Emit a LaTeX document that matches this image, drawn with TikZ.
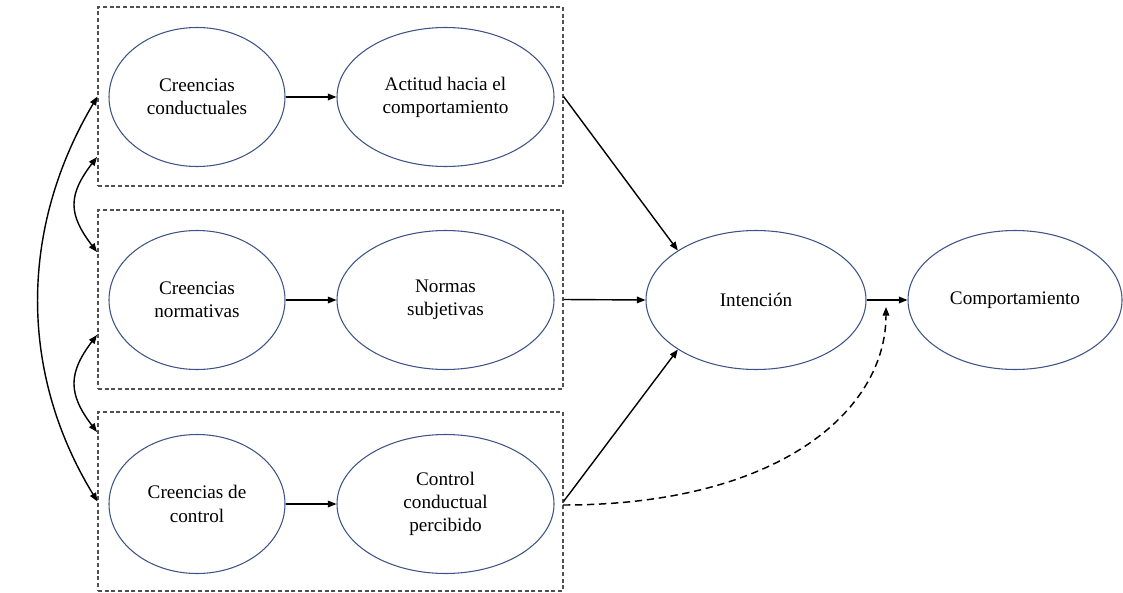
\documentclass[tikz,border=0pt]{standalone}
\usepackage{fontspec}
\setmainfont{Liberation Serif}
\usetikzlibrary{arrows.meta,shapes.geometric}
\definecolor{ellblue}{RGB}{62,84,136}
\definecolor{boxgray}{RGB}{80,80,80}
\begin{document}
\begin{tikzpicture}[x=0.75pt,y=-0.75pt,
  ell/.style={ellipse, draw=ellblue, line width=0.8pt, inner sep=0pt, minimum height=104.25pt, align=center, font=\fontsize{14.4}{17.4}\selectfont},
  dbox/.style={draw=boxgray, dash pattern=on 3pt off 2pt, line width=0.8pt, minimum width=348.75pt, minimum height=134.25pt, inner sep=0pt},
  tip/.tip={Triangle[length=6.5pt,width=5pt]},
  conn/.style={line width=1.05pt, -tip},
  biconn/.style={line width=1.05pt, tip-tip},
  dconn/.style={line width=1.1pt, dash pattern=on 5.5pt off 3.5pt, -tip},
]
\useasboundingbox (0,0) rectangle (1123,592);
% dashed groups
\node[dbox] (b1) at (330.5,96.5) {};
\node[dbox] (b2) at (330.5,299.5) {};
\node[dbox] (b3) at (330.5,501.5) {};
% ellipses
\node[ell, minimum width=132pt] (cc) at (197,97) {Creencias\\conductuales};
\node[ell, minimum width=162.75pt] (ac) at (445.5,97) {Actitud hacia el\\comportamiento};
\node[ell, minimum width=132pt] (cn) at (197,300) {Creencias\\normativas};
\node[ell, minimum width=162.75pt] (ns) at (445.5,300) {Normas\\subjetivas};
\node[ell, minimum width=132pt] (cd) at (197,504) {Creencias de\\control};
\node[ell, minimum width=162.75pt] (cp) at (445.5,504) {Control\\conductual\\percibido};
\node[ell, minimum width=165pt] (int) at (756,300) {Intención};
\node[ell, minimum width=160.5pt] (comp) at (1015,300) {Comportamiento};
% helper coordinates
\coordinate (l1a) at (97,157);
\coordinate (l1b) at (97,252);
\coordinate (l2a) at (97,335);
\coordinate (l2b) at (97,432);
\coordinate (ds) at (563,505);
\coordinate (de) at (886,307);
% connectors
\draw[conn] (cc) -- (ac);
\draw[conn] (cn) -- (ns);
\draw[conn] (cd) -- (cp);
\draw[conn] (b1.east) -- (int.north west);
\draw[conn] (b2.east) -- (int.west);
\draw[conn] (b3.east) -- (int.south west);
\draw[conn] (int.east) -- (comp.west);
\draw[dconn] (ds) .. controls (780,505) and (886,410) .. (de);
\draw[biconn] (b1.west) .. controls (19,229) and (19,373) .. (b3.west);
\draw[biconn] (l1a) .. controls (68,195) and (68,214) .. (l1b);
\draw[biconn] (l2a) .. controls (68,373) and (68,394) .. (l2b);
\end{tikzpicture}
\end{document}
